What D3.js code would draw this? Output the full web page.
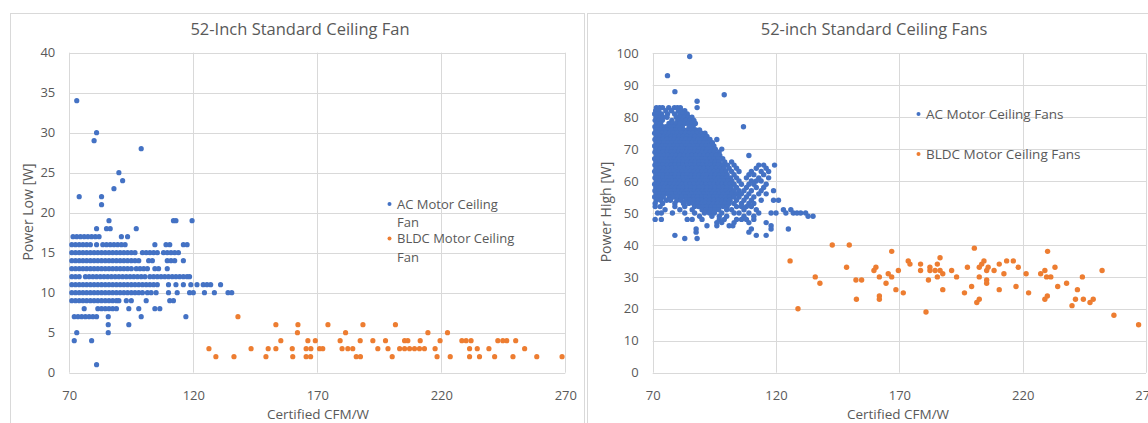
<!DOCTYPE html>
<html><head><meta charset="utf-8">
<script src="https://cdn.jsdelivr.net/npm/d3@7/dist/d3.min.js"></script>
<style>
body{margin:0;background:#fff;}
svg text{font-family:"Open Sans",sans-serif;fill:#595959;}
</style>
</head><body>
<svg id="c" width="1148" height="423"></svg>
<script>
// ---------- tick labels ----------
const xTicks = [70, 120, 170, 220, 270];
const lowTicks = [0, 5, 10, 15, 20, 25, 30, 35, 40];
const highTicks = [0, 10, 20, 30, 40, 50, 60, 70, 80, 90, 100];

// ---------- titles / labels ----------
const leftTitle = "52-Inch Standard Ceiling Fan";
const rightTitle = "52-inch Standard Ceiling Fans";
const xLabel = "Certified CFM/W";
const leftYLabel = "Power Low [W]";
const rightYLabel = "Power High [W]";
const leftLegend = [["AC Motor Ceiling", "Fan"], ["BLDC Motor Ceiling", "Fan"]];
const rightLegend = ["AC Motor Ceiling Fans", "BLDC Motor Ceiling Fans"];

// ---------- Left chart: AC motor, Power Low (rows of equal W) ----------
const acLowY = [34, 30, 29, 28, 25, 24, 23, 22, 21, 19, 18, 17, 16, 15, 14, 13, 12, 11, 10, 9, 8, 7, 6, 5, 4, 1];
const acLowX = [
  [73],
  [81],
  [80],
  [99],
  [90],
  [91.5],
  [88],
  [74, 83],
  [83],
  [86, 112, 113, 119.5],
  [81, 85, 86.5, 97],
  [71.5, 73, 74.5, 76, 77.5, 79, 80.5, 82, 91, 93.5],
  [71, 72.5, 74, 75.5, 77, 78.5, 81, 83.5, 85, 86.5, 88, 89.5, 91, 92.5, 104.5, 109, 110.5, 116, 117.5],
  [71, 72.5, 74, 75.5, 77, 78.5, 80, 81.5, 83, 84.5, 86, 87.5, 89, 90.5, 92, 93.5, 95, 96.5, 99.5, 101, 102.5, 104, 105.5, 108, 109.5, 111, 112.5, 114],
  [71, 72.5, 74, 75.5, 77, 78.5, 80, 81.5, 83, 84.5, 86, 87.5, 89, 90.5, 92, 93.5, 95, 96.5, 98, 102, 103.5, 109.5, 111, 112.5, 116],
  [71, 72.5, 74, 75.5, 77, 78.5, 80, 81.5, 83, 84.5, 86, 87.5, 89, 90.5, 92, 93.5, 95, 97, 98.5, 100, 101.5, 104.5, 106, 109.5],
  [71, 72.5, 74, 76.5, 78, 79.5, 81, 82.5, 84, 85.5, 87, 88.5, 90, 91.5, 93, 94.5, 96, 97.5, 99, 100.5, 102.5, 104, 105.5, 107, 108.5, 110, 111.5, 113, 114.5, 116, 117.5, 118.5],
  [71, 72.5, 74, 75.5, 77, 78.5, 80, 81.5, 83, 84.5, 86, 87.5, 89, 90.5, 92, 93.5, 95, 96.5, 98, 99.5, 101, 102.5, 104, 105.5, 110, 113, 116, 119, 121.5, 124, 125.5, 127, 131],
  [71, 72.5, 74, 75.5, 77, 78.5, 80, 81.5, 83, 84.5, 86, 87.5, 89, 90.5, 92, 93.5, 95, 96.5, 98, 99.5, 101.5, 103, 105, 110, 113.5, 118.5, 120, 124.5, 128.5, 134, 135.5],
  [71, 72.5, 74, 75.5, 77, 78.5, 80, 81.5, 83, 84.5, 86, 87.5, 89, 90, 93, 95, 101, 110.5, 112],
  [76, 81.5, 83, 84.5, 86, 87.5, 89, 94, 98, 104.5, 106.5],
  [72, 73.5, 75, 76.5, 78, 79.5, 81, 85.7, 99, 117],
  [85.7, 94],
  [73, 85.7],
  [72, 79],
  [81]
];

// ---------- Left chart: BLDC motor, Power Low ----------
const bldcLowX = [126.3, 129.1, 136.4, 138, 143.3, 149.3, 150.2, 153.3, 153.3, 155.3,
  162.2, 174.3, 188.4, 201.5,
  162, 181.4, 214.6, 222.5,
  166.2, 169.2, 179.2, 187.3, 192.4, 197.5, 205.2, 206.5, 211.5, 219.5, 228.3, 230, 232, 242.8, 244.8, 246.4, 250,
  159.9, 165.5, 167.4, 170.9, 172.2, 180, 182.3, 184.3, 194.4, 198.5, 203.2, 205.2, 207.2, 209.2, 211.2, 213.2, 217.5, 231.4, 234.5, 239.2, 253.6,
  160.1, 165.5, 167.3, 185.7, 187.4, 200.2, 218.3, 223.6, 231.4, 235.4, 241.5, 248.9, 258.5, 268.7];
const bldcLowY = [3, 2, 2, 7, 3, 2, 3, 3, 6, 4,
  6, 6, 6, 6,
  5, 5, 5, 5,
  4, 4, 4, 4, 4, 4, 4, 4, 4, 4, 4, 4, 4, 4, 4, 4, 4,
  3, 3, 3, 3, 3, 3, 3, 3, 3, 3, 3, 3, 3, 3, 3, 3, 3, 3, 3, 3, 3,
  2, 2, 2, 2, 2, 2, 2, 2, 2, 2, 2, 2, 2, 2];

// ---------- Right chart: AC motor, Power High (rows of equal W) ----------
const acHighY = [99, 93, 88, 87, 85, 83, 82, 81, 80, 79, 78, 77, 76, 75, 74, 73, 72, 71, 70, 69, 68, 67, 66, 65, 64, 63, 62, 61, 60, 59, 58, 57, 56, 55, 54, 53, 52, 51, 50, 49, 48, 47, 46, 45, 44, 43, 42];
const acHighX = [
  [85],
  [76],
  [79],
  [99],
  [88],
  [71.5, 72.8, 74, 76.5, 78.8, 80, 81.2, 88],
  [71.2, 72.5, 75.3, 77.6, 80.4, 81.6, 83],
  [70.8, 72.1, 73.6, 76, 78.9, 81, 82.4, 84],
  [71.4, 73, 74.2, 75.8, 79.6, 81.3, 82.7, 84.5, 85.9],
  [71, 72.4, 73.9, 77.8, 80.2, 81.8, 83.4, 85.1, 86.7],
  [71.6, 73.2, 76.6, 78.1, 79.5, 81.1, 82.9, 84.3, 86, 87.3],
  [70.9, 72.3, 74, 75.4, 77.2, 78.7, 80.4, 82, 84.8, 86.4, 106.8],
  [71.3, 72.9, 74.6, 76.1, 77.9, 79.4, 81, 82.6, 84.1, 85.7, 87.5, 89],
  [70.8, 72.2, 73.7, 75.3, 76.8, 78.4, 80, 81.7, 83.3, 84.9, 86.4, 88.1, 89.8, 91.2],
  [71.5, 73, 74.4, 76, 77.6, 79.2, 80.8, 82.3, 84, 85.6, 87.2, 88.9, 90.4, 92],
  [70.9, 72.4, 74.1, 75.7, 77.3, 78.8, 80.5, 82, 83.6, 85.3, 86.9, 88.5, 90.1, 91.7, 93.2, 96],
  [71.4, 73, 74.6, 76.2, 77.9, 79.4, 81.1, 82.7, 84.3, 85.9, 87.5, 89.2, 90.8, 92.3, 94.2],
  [70.8, 72.3, 73.9, 75.5, 77.1, 78.7, 80.3, 81.9, 83.5, 85.1, 86.8, 88.4, 90, 91.6, 93.1, 94.8],
  [71.3, 72.9, 74.5, 76.1, 77.7, 79.3, 80.9, 82.5, 84.1, 85.7, 87.3, 88.9, 90.5, 92.2, 93.8, 95.4, 98],
  [70.9, 72.5, 74.1, 75.7, 77.3, 78.9, 80.5, 82.1, 83.7, 85.3, 86.9, 88.5, 90.1, 91.7, 93.4, 95, 96.9],
  [71.5, 73.1, 74.7, 76.3, 77.9, 79.5, 81.1, 82.7, 84.3, 85.9, 87.5, 89.1, 90.8, 92.4, 94, 95.7, 97.2, 109],
  [70.8, 72.4, 74, 75.6, 77.2, 78.8, 80.4, 82, 83.6, 85.2, 86.8, 88.4, 90, 91.6, 93.2, 94.9, 96.5, 98.4],
  [71.3, 72.9, 74.5, 76.1, 77.7, 79.3, 80.9, 82.5, 84.1, 85.7, 87.3, 88.9, 90.5, 92.1, 93.8, 95.4, 97, 99.2, 102],
  [70.9, 72.6, 74, 75.8, 77.3, 79.1, 80.6, 82.2, 83.9, 85.4, 87.1, 88.7, 90.2, 92, 93.5, 95.2, 96.7, 98.3, 100.3, 103, 113, 115, 119.4],
  [71.4, 72.9, 74.7, 76.2, 77.9, 79.5, 81.2, 82.8, 84.3, 86, 87.6, 89.3, 90.9, 92.4, 94.1, 95.8, 97.3, 98.9, 101, 104, 112, 116],
  [70.8, 72.3, 74, 75.6, 77.1, 78.8, 80.4, 82, 83.7, 85.2, 86.9, 88.5, 90, 91.7, 93.3, 94.9, 96.5, 98.1, 99.7, 102, 105, 110, 114, 117],
  [71.3, 72.9, 74.5, 76, 77.7, 79.3, 80.9, 82.5, 84, 85.7, 87.3, 88.9, 90.6, 92.1, 93.8, 95.4, 97, 98.6, 100.2, 103, 109, 111, 115],
  [70.9, 72.5, 74.1, 75.7, 77.4, 78.9, 80.5, 82.2, 83.8, 85.3, 87, 88.6, 90.2, 91.8, 93.4, 95.1, 96.6, 98.3, 99.9, 101.6, 104, 108, 113, 117],
  [71.5, 73, 74.7, 76.3, 77.9, 79.4, 81.1, 82.7, 84.4, 85.9, 87.5, 89.2, 90.8, 92.3, 94, 95.6, 97.2, 98.8, 100.5, 102.1, 105, 110, 112, 114],
  [70.8, 72.4, 74, 75.5, 77.2, 78.8, 80.3, 82, 83.6, 85.2, 86.8, 88.4, 90.1, 91.6, 93.3, 94.8, 96.5, 98, 99.7, 101.3, 103, 106, 109, 111, 116],
  [71.3, 72.8, 74.5, 76.1, 77.7, 79.3, 80.9, 82.4, 84.1, 85.7, 87.3, 88.9, 90.5, 92.2, 93.8, 95.3, 97, 98.6, 100.2, 101.8, 104, 108, 112, 115],
  [70.9, 72.5, 74.2, 75.7, 77.3, 78.9, 80.6, 82.1, 83.7, 85.4, 87, 88.5, 90.2, 91.8, 93.4, 95, 96.6, 98.3, 99.8, 101.5, 103, 105, 107, 110, 114, 119],
  [71.4, 73, 74.6, 76.2, 77.8, 79.4, 81, 82.6, 84.2, 85.8, 87.4, 89, 90.7, 92.3, 93.9, 95.5, 97.1, 98.7, 100.3, 102, 104, 106, 109, 113, 116],
  [70.8, 72.4, 74.3, 76.7, 78.3, 80.1, 81.8, 83.4, 85, 86.6, 88.2, 89.9, 91.5, 93.1, 94.7, 96.3, 97.9, 99.6, 101.2, 103, 105, 108, 111],
  [71.5, 73.3, 75.6, 77.2, 79.8, 81.5, 83.4, 85, 86.7, 88.3, 89.9, 91.6, 93.2, 94.8, 96.4, 98.1, 99.7, 101.4, 104, 107, 110, 114, 119, 121],
  [71, 74, 79, 82.5, 84.6, 86.5, 88.2, 89.8, 91.4, 93, 94.7, 96.3, 97.9, 99.5, 101, 103, 106, 109, 111],
  [71, 73, 79, 83, 87, 88.6, 90.3, 92, 93.6, 95.2, 96.9, 98.5, 100.2, 104, 106, 108, 110],
  [75, 81, 86, 90, 91.8, 93.5, 95.2, 96.8, 100, 102, 107, 112, 123, 126],
  [72, 73.5, 78, 83, 87, 91, 93, 95, 98, 103, 105, 109, 113, 118, 120, 124, 127, 128.5, 130, 132],
  [89, 94, 97, 100, 107, 111, 133, 135],
  [71, 73.5, 84, 86, 90, 97, 99, 104, 106, 108, 111],
  [96, 98, 103, 109, 116],
  [92, 96, 101, 102.5, 118],
  [87.6, 110, 118, 125],
  [87.6, 109],
  [79, 112, 116],
  [83, 88]
];

// ---------- Right chart: BLDC motor, Power High ----------
const bldcHighX = [125.7, 128.9, 135.9, 137.8, 142.8, 149.7, 148.6, 152.4, 154.7, 152.6,
  159.7, 160.5, 161.9, 161.9, 161.9, 164.6, 165.5, 166.9, 166.9, 168.6, 169.6, 171.6, 173.6, 174.3,
  178.6, 178.6, 181.8, 180.8, 182.4, 182.4, 184.5, 186.5, 185.4, 186.5, 185.4, 187.6, 187.6,
  191.2, 193.2, 196.4, 197.6, 199.3, 200.4, 201.4, 202.4, 202.4, 202.4, 203.4, 204.3, 205.4, 205.4, 205.4, 206,
  208.4, 210.5, 210.5, 212.4, 213.5, 216.2, 217.3, 218.2, 221.4, 222.4, 227.3, 229, 229, 230, 230.1, 229.7, 231.4,
  233.1, 234.2, 237.8, 240, 241.4, 242.2, 244.2, 244.6, 247.3, 248.6, 252.2, 257, 267];
const bldcHighY = [35, 20, 30, 28, 40, 40, 33, 29, 29, 23,
  32, 33, 30, 24, 23, 28, 31, 30, 38, 26, 32, 25, 35, 34,
  34, 32, 29, 19, 33, 32, 32, 32, 34, 36, 30, 31, 26,
  32, 30, 25, 33, 27, 39, 22, 23, 33, 30, 34, 35, 29, 28, 32, 33,
  32, 34, 26, 31, 35, 35, 27, 33, 31, 25, 31, 32, 23, 24, 38, 30, 30,
  33, 27, 28, 21, 23, 26, 30, 23, 22, 23, 32, 18, 15];

// ---------- styling ----------
const AC_COLOR = "#4472C4";
const BLDC_COLOR = "#ED7D31";
const GRID = "#d9d9d9";
const FRAME = "#d9d9d9";

const svg = d3.select("#c");
svg.append("rect").attr("width", 1148).attr("height", 423).attr("fill", "#fff");

// chart frames
svg.append("rect").attr("x", 10.5).attr("y", 13.5).attr("width", 574).attr("height", 430)
  .attr("fill", "none").attr("stroke", FRAME);
svg.append("rect").attr("x", 587.5).attr("y", 13.5).attr("width", 600).attr("height", 430)
  .attr("fill", "none").attr("stroke", FRAME);

function flatRows(ys, xs) {
  const out = [];
  ys.forEach((y, i) => xs[i].forEach(x => out.push({x, y})));
  return out;
}
function zipXY(xs, ys) { return xs.map((x, i) => ({x, y: ys[i]})); }

function panel(o) {
  const x = d3.scaleLinear().domain([70, 270]).range(o.xr);
  const y = d3.scaleLinear().domain([0, o.yTicks[o.yTicks.length - 1]]).range(o.yr);
  const g = svg.append("g");
  const crisp = v => Math.round(v) + 0.5;

  // gridlines
  g.selectAll(".hg").data(o.yTicks).join("line")
    .attr("x1", o.xr[0]).attr("x2", o.xr[1])
    .attr("y1", d => crisp(y(d))).attr("y2", d => crisp(y(d)))
    .attr("stroke", GRID).attr("stroke-width", 1);
  g.selectAll(".vg").data(xTicks).join("line")
    .attr("x1", d => crisp(x(d))).attr("x2", d => crisp(x(d)))
    .attr("y1", o.yr[1]).attr("y2", o.yr[0])
    .attr("stroke", GRID).attr("stroke-width", 1);

  // axes (labels only)
  const ax = g.append("g").attr("transform", `translate(0,${o.yr[0]})`)
    .call(d3.axisBottom(x).tickValues(xTicks).tickSize(0).tickPadding(18).tickFormat(d3.format("d")));
  const ay = g.append("g").attr("transform", `translate(${o.xr[0]},0)`)
    .call(d3.axisLeft(y).tickValues(o.yTicks).tickSize(0).tickPadding(14).tickFormat(d3.format("d")));
  [ax, ay].forEach(a => {
    a.select(".domain").remove();
    a.selectAll("text").attr("font-size", 13).style("font-family", '"Open Sans",sans-serif').attr("fill", "#595959");
  });

  // points
  g.append("g").selectAll("circle").data(o.ac).join("circle")
    .attr("cx", d => x(d.x)).attr("cy", d => y(d.y)).attr("r", o.r).attr("fill", AC_COLOR);
  g.append("g").selectAll("circle").data(o.bldc).join("circle")
    .attr("cx", d => x(d.x)).attr("cy", d => y(d.y)).attr("r", o.r).attr("fill", BLDC_COLOR);

  // title
  g.append("text").attr("x", o.titleX).attr("y", 35).attr("text-anchor", "middle")
    .attr("font-size", 16.5).text(o.title);
  // x label
  g.append("text").attr("x", o.xLabelX).attr("y", 419).attr("text-anchor", "middle")
    .attr("font-size", 13.5).text(xLabel);
  // y label
  g.append("text").attr("transform", `translate(${o.yLabelX},212) rotate(-90)`)
    .attr("text-anchor", "middle").attr("font-size", 14).text(o.yLabel);
  return g;
}

panel({
  xr: [69.3, 565.3], yr: [372.7, 52.7], yTicks: lowTicks, r: 2.6,
  ac: flatRows(acLowY, acLowX), bldc: zipXY(bldcLowX, bldcLowY),
  title: leftTitle, titleX: 300, xLabelX: 318, yLabelX: 33, yLabel: leftYLabel
});
panel({
  xr: [652.7, 1146], yr: [372.7, 53.3], yTicks: highTicks, r: 2.7,
  ac: flatRows(acHighY, acHighX), bldc: zipXY(bldcHighX, bldcHighY),
  title: rightTitle, titleX: 874, xLabelX: 898, yLabelX: 611, yLabel: rightYLabel
});

// legends
const colors = [AC_COLOR, BLDC_COLOR];
const lg = svg.append("g");
const leftLegY = [204, 238.5];
leftLegend.forEach((lines, i) => {
  lg.append("circle").attr("cx", 389.5).attr("cy", leftLegY[i]).attr("r", 2).attr("fill", colors[i]);
  lines.forEach((t, j) => {
    lg.append("text").attr("x", 397).attr("y", leftLegY[i] + 4.5 + j * 18.8)
      .attr("font-size", 13).text(t);
  });
});
const rightLegY = [114, 154];
rightLegend.forEach((t, i) => {
  lg.append("circle").attr("cx", 918.5).attr("cy", rightLegY[i]).attr("r", 2).attr("fill", colors[i]);
  lg.append("text").attr("x", 926).attr("y", rightLegY[i] + 4.5).attr("font-size", 13.5).text(t);
});
</script>
</body></html>
